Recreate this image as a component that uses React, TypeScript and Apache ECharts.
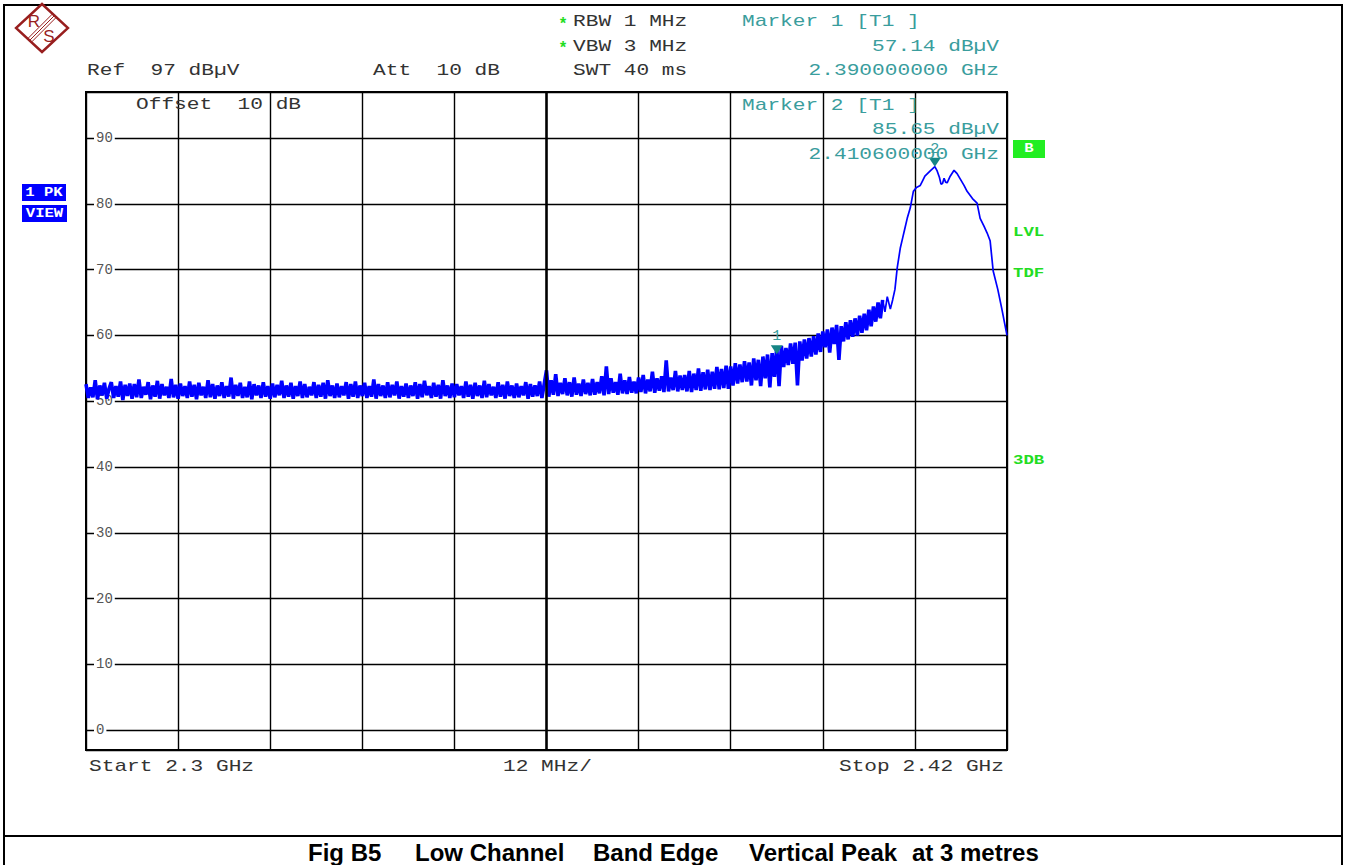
import React, { useEffect, useRef } from "react";
import * as echarts from "echarts";

// ---------- data ----------
const START_GHZ = 2.3;
const SPAN_MHZ = 120;
const DIV_MHZ = 12;
const STEP_MHZ = 0.3;
const Y_MIN = -3; // ref 97 dBµV, 10 dB/div
const Y_MAX = 97;
const yTickLabels = [0, 10, 20, 30, 40, 50, 60, 70, 80, 90];

// trace samples 0 .. 59.7 MHz (step 0.3 MHz), dBµV
const noiseFlat = [
  52.6, 50.5, 52.1, 50.6, 53.2, 50.3, 52.4, 50.9, 52.8, 50.4, 51.9, 52.9, 50.5, 52.3, 50.7, 53.0, 50.2, 52.5, 50.8, 52.7,
  50.4, 52.6, 50.6, 53.3, 50.5, 52.2, 51.0, 52.9, 50.3, 52.4, 50.7, 53.1, 50.4, 52.6, 50.9, 52.2, 50.5, 53.4, 50.6, 52.5,
  50.4, 52.7, 50.8, 52.3, 50.5, 53.0, 50.7, 52.5, 50.3, 52.8, 50.9, 52.2, 50.5, 53.2, 50.6, 52.6, 50.4, 52.4, 50.8, 52.9,
  50.5, 52.3, 50.7, 53.6, 50.4, 52.5, 50.8, 52.8, 50.5, 52.2, 50.6, 53.0, 50.3, 52.6, 50.9, 52.4, 50.5, 52.9, 50.7, 52.3,
  50.4, 52.7, 50.6, 52.5, 50.9, 53.1, 50.5, 52.4, 50.7, 52.8, 50.4, 52.3, 50.8, 53.0, 50.5, 52.6, 50.6, 52.2, 50.9, 52.9,
  50.5, 52.5, 50.7, 52.8, 50.4, 53.2, 50.8, 52.4, 50.5, 52.7, 50.6, 52.3, 50.9, 52.9, 50.4, 52.6, 50.7, 53.0, 50.5, 52.4,
  50.8, 52.8, 50.5, 52.3, 50.7, 53.3, 50.4, 52.6, 50.8, 52.4, 50.5, 52.9, 50.6, 52.5, 50.9, 53.0, 50.4, 52.3, 50.7, 52.7,
  50.5, 52.4, 50.8, 52.9, 50.4, 52.6, 50.6, 53.1, 50.9, 52.3, 50.5, 52.8, 50.7, 52.5, 50.4, 53.2, 50.8, 52.4, 50.5, 52.7,
  50.6, 52.6, 50.9, 52.3, 50.5, 53.0, 50.7, 52.5, 50.4, 52.8, 50.8, 52.4, 50.5, 53.1, 50.6, 52.6, 50.9, 52.2, 50.5, 52.9,
  50.7, 52.5, 50.4, 53.0, 50.8, 52.4, 50.5, 52.7, 50.6, 52.3, 50.9, 52.9, 50.4, 52.6, 50.7, 52.4, 50.8, 53.0, 50.5, 52.6,
];

// trace samples 60.0 .. 103.8 MHz (step 0.3 MHz), dBµV
const noiseRise = [
  54.7, 50.7, 53.2, 51.0, 54.1, 50.8, 52.8, 51.1, 53.5, 50.9, 52.9, 50.7, 53.6, 51.0, 52.7, 50.8, 53.3, 51.1, 52.8, 50.9,
  53.4, 51.0, 52.9, 51.2, 53.8, 50.9, 55.3, 51.1, 53.5, 51.3, 52.9, 51.0, 54.2, 51.2, 53.2, 51.1, 53.7, 51.3, 53.0, 51.2,
  53.6, 51.4, 54.0, 51.2, 53.3, 51.5, 54.5, 51.3, 53.5, 51.6, 53.8, 51.4, 56.2, 51.5, 53.6, 51.7, 54.6, 51.5, 53.9, 51.7,
  54.0, 51.5, 54.6, 51.4, 54.2, 51.7, 55.0, 51.6, 54.4, 51.8, 54.8, 51.7, 54.5, 51.9, 55.2, 51.8, 54.9, 52.0, 55.4, 51.9,
  55.3, 52.4, 55.8, 52.7, 55.6, 52.9, 56.1, 53.0, 55.9, 52.4, 56.5, 53.2, 56.3, 52.3, 56.8, 53.5, 57.1, 52.1, 57.3, 53.7,
  58.2, 52.3, 58.4, 55.2, 58.1, 55.5, 58.8, 55.7, 58.9, 52.4, 59.1, 56.2, 59.4, 56.5, 59.6, 56.8, 59.9, 57.1, 60.3, 57.5,
  60.6, 58.2, 60.9, 57.4, 61.2, 58.7, 61.6, 56.3, 61.4, 59.1, 62.0, 59.4, 62.3, 59.8, 62.6, 60.0, 63.0, 60.4, 63.3, 60.8,
  63.9, 61.4, 64.4, 62.1, 65.0, 62.6, 65.4,
];

// carrier region [MHz from start, dBµV]
const peakTrace = [
  [104.1, 63.6], [104.4, 65.9], [104.8, 64.0], [105.1, 65.4], [105.4, 67.0], [105.7, 70.3],
  [106.1, 73.3], [106.4, 74.8], [106.7, 76.3], [107.0, 77.8], [107.4, 79.4], [107.8, 81.9],
  [108.2, 82.5], [108.7, 82.8], [109.0, 83.5], [109.3, 84.2], [110.0, 85.0], [110.6, 85.65],
  [110.9, 85.0], [111.2, 84.0], [111.4, 83.0], [111.6, 83.1], [111.8, 83.9], [112.0, 83.3],
  [112.2, 83.2], [112.6, 84.2], [113.1, 85.1], [113.5, 84.6], [113.9, 83.8], [114.4, 82.8],
  [114.8, 81.9], [115.5, 80.8], [116.1, 80.1], [116.5, 77.8], [117.0, 76.6], [117.4, 75.6],
  [117.8, 74.4], [118.2, 69.8], [118.8, 67.0], [119.3, 64.2], [119.7, 61.8], [120.0, 60.0],
];

const markerNames = ["1", "2"];
const markerFreqMHz = [90, 110.6];
const markerLevels = [57.14, 85.65];

// ---------- helpers ----------
const MONO = "Liberation Mono";
const MONO_SCALE = 1.323;
const TEAL_TEXT = "#3a9d9d";
const DARK = "#333";
const GREEN = "#22dd22";

function mono(text: string, x: number, y: number, o: any = {}) {
  const align = o.align || "left";
  return {
    type: "text",
    x,
    y,
    scaleX: o.scaleX ?? MONO_SCALE,
    z: 100,
    silent: true,
    style: {
      text,
      fill: o.color || DARK,
      fontFamily: o.family || MONO,
      fontSize: o.size || 16,
      fontWeight: o.weight || "normal",
      align,
      textAlign: align,
      verticalAlign: "middle",
      textVerticalAlign: "middle",
    },
  };
}

function seg(x1: number, y1: number, x2: number, y2: number, color: string, w: number) {
  return { type: "line", z: 100, silent: true, shape: { x1, y1, x2, y2 }, style: { stroke: color, lineWidth: w } };
}

function ghz(mhz: number) {
  return (START_GHZ + mhz / 1000).toFixed(9) + " GHz";
}

export default function App() {
  const ref = useRef<HTMLDivElement>(null);

  useEffect(() => {
    document.body.style.margin = "0";
    if (!ref.current) return;
    const chart = echarts.init(ref.current, undefined, { renderer: "svg" });

    const noiseData: number[][] = [];
    noiseFlat.forEach((v, i) => noiseData.push([i * STEP_MHZ, v]));
    noiseRise.forEach((v, i) => noiseData.push([(noiseFlat.length + i) * STEP_MHZ, v]));
    const carrierData: number[][] = [noiseData[noiseData.length - 1]];
    peakTrace.forEach((p) => carrierData.push([p[0], p[1]]));

    const logoRed = "#981e1e";
    const capStyle = { color: "#000", family: "Liberation Sans", weight: "bold", size: 24, scaleX: 1 };
    const graphic: any[] = [
      // outer frame
      seg(4, 5, 1342, 5, "#000", 2),
      seg(4, 4, 4, 865, "#000", 2),
      seg(1342, 4, 1342, 865, "#000", 2),
      seg(4, 836, 1342, 836, "#000", 2),
      // R&S logo
      {
        type: "polygon",
        z: 100,
        shape: { points: [[42, 4], [68, 28], [42, 52], [16, 28]] },
        style: { fill: "none", stroke: logoRed, lineWidth: 2.4 },
      },
      seg(28.2, 38.2, 52.2, 14.2, logoRed, 1),
      seg(30, 40, 54, 16, logoRed, 1),
      seg(31.8, 41.8, 55.8, 17.8, logoRed, 1),
      mono("R", 34, 21, { color: logoRed, family: "Liberation Sans", size: 17, scaleX: 1, align: "center" }),
      mono("S", 49, 36, { color: logoRed, family: "Liberation Sans", size: 17, scaleX: 1, align: "center" }),
      // header
      mono("*", 563, 25, { color: GREEN, weight: "bold", scaleX: 1, align: "center" }),
      mono("*", 563, 49, { color: GREEN, weight: "bold", scaleX: 1, align: "center" }),
      mono("RBW 1 MHz", 573, 22),
      mono("VBW 3 MHz", 573, 47),
      mono("SWT 40 ms", 573, 71),
      mono("Ref  97 dBµV", 87, 71),
      mono("Att  10 dB", 373, 71),
      mono(`Marker ${markerNames[0]} [T1 ]`, 742, 22, { color: TEAL_TEXT }),
      mono(`${markerLevels[0].toFixed(2)} dBµV`, 999, 47, { color: TEAL_TEXT, align: "right" }),
      mono(ghz(markerFreqMHz[0]), 999, 71, { color: TEAL_TEXT, align: "right" }),
      mono("Offset  10 dB", 136, 105),
      mono(`Marker ${markerNames[1]} [T1 ]`, 742, 106, { color: TEAL_TEXT }),
      mono(`${markerLevels[1].toFixed(2)} dBµV`, 999, 130, { color: TEAL_TEXT, align: "right" }),
      mono(ghz(markerFreqMHz[1]), 999, 155, { color: TEAL_TEXT, align: "right" }),
      // footer of the screen
      mono(`Start ${START_GHZ} GHz`, 89, 767),
      mono(`${DIV_MHZ} MHz/`, 503, 767),
      mono(`Stop ${(START_GHZ + SPAN_MHZ / 1000).toFixed(2)} GHz`, 1004, 767, { align: "right" }),
      // left trace info boxes
      { type: "rect", z: 100, shape: { x: 22, y: 184, width: 44, height: 17 }, style: { fill: "#0000ff" } },
      { type: "rect", z: 100, shape: { x: 22, y: 205, width: 45, height: 17 }, style: { fill: "#0000ff" } },
      mono("1 PK", 44, 193, { color: "#fff", weight: "bold", size: 12, scaleX: 1.3, align: "center" }),
      mono("VIEW", 44.5, 214, { color: "#fff", weight: "bold", size: 12, scaleX: 1.3, align: "center" }),
      // right side annotations
      { type: "rect", z: 100, shape: { x: 1013, y: 140, width: 32, height: 18 }, style: { fill: "#22ee22" } },
      mono("B", 1029, 149, { color: "#fff", weight: "bold", size: 12, scaleX: 1.3, align: "center" }),
      mono("LVL", 1013, 233, { color: GREEN, weight: "bold", size: 12, scaleX: 1.45 }),
      mono("TDF", 1013, 274, { color: GREEN, weight: "bold", size: 12, scaleX: 1.45 }),
      mono("3DB", 1013, 461, { color: GREEN, weight: "bold", size: 12, scaleX: 1.45 }),
      // caption
      mono("Fig B5", 308, 852, capStyle),
      mono("Low Channel", 415, 852, capStyle),
      mono("Band Edge", 593, 852, capStyle),
      mono("Vertical Peak", 749, 852, capStyle),
      mono("at 3 metres", 912, 852, capStyle),
    ];

    const option: any = {
      animation: false,
      backgroundColor: "#fff",
      grid: {
        left: 86,
        top: 92,
        width: 921,
        height: 658,
        show: true,
        borderColor: "#000",
        borderWidth: 2,
        backgroundColor: "transparent",
      },
      xAxis: {
        type: "value",
        min: 0,
        max: SPAN_MHZ,
        interval: DIV_MHZ,
        axisLine: { show: false },
        axisTick: { show: false },
        axisLabel: { show: false },
        splitLine: { show: true, lineStyle: { color: "#000", width: 1.4 } },
      },
      yAxis: {
        type: "value",
        min: Y_MIN,
        max: Y_MAX,
        splitNumber: 10,
        axisLine: { show: false },
        axisTick: { show: false },
        axisLabel: {
          inside: true,
          margin: 8,
          showMinLabel: false,
          showMaxLabel: false,
          color: "#555",
          fontFamily: MONO,
          fontSize: 14,
          backgroundColor: "#fff",
          padding: [0, 2],
          formatter: (v: number) => (yTickLabels.indexOf(v) >= 0 ? String(v) : ""),
        },
        splitLine: { show: true, lineStyle: { color: "#000", width: 1.4 } },
      },
      series: [
        {
          type: "line",
          data: noiseData,
          symbol: "none",
          showSymbol: false,
          lineStyle: { color: "#0000ff", width: 3.6, join: "miter", miterLimit: 2 },
          z: 3,
          clip: true,
          silent: true,
          markLine: {
            silent: true,
            symbol: ["none", "none"],
            label: { show: false },
            lineStyle: { color: "#000", width: 2.5, type: "solid" },
            data: [{ xAxis: SPAN_MHZ / 2 }],
          },
        },
        {
          type: "line",
          data: carrierData,
          symbol: "none",
          showSymbol: false,
          lineStyle: { color: "#0000ff", width: 1.7 },
          z: 3,
          clip: true,
          silent: true,
          markPoint: {
            silent: true,
            symbol: "path://M0 0L12 0L6 9Z",
            symbolSize: [12, 9],
            symbolOffset: [0, -4.5],
            itemStyle: { color: "#158585" },
            label: {
              show: true,
              position: "top",
              distance: 1,
              formatter: "{b}",
              color: TEAL_TEXT,
              fontFamily: MONO,
              fontSize: 15,
            },
            data: markerFreqMHz.map((f, i) => ({ coord: [f, markerLevels[i]], name: markerNames[i] })),
          },
        },
      ],
      graphic,
    };

    chart.setOption(option);
    return () => chart.dispose();
  }, []);

  return <div ref={ref} style={{ width: 1350, height: 865 }} />;
}
